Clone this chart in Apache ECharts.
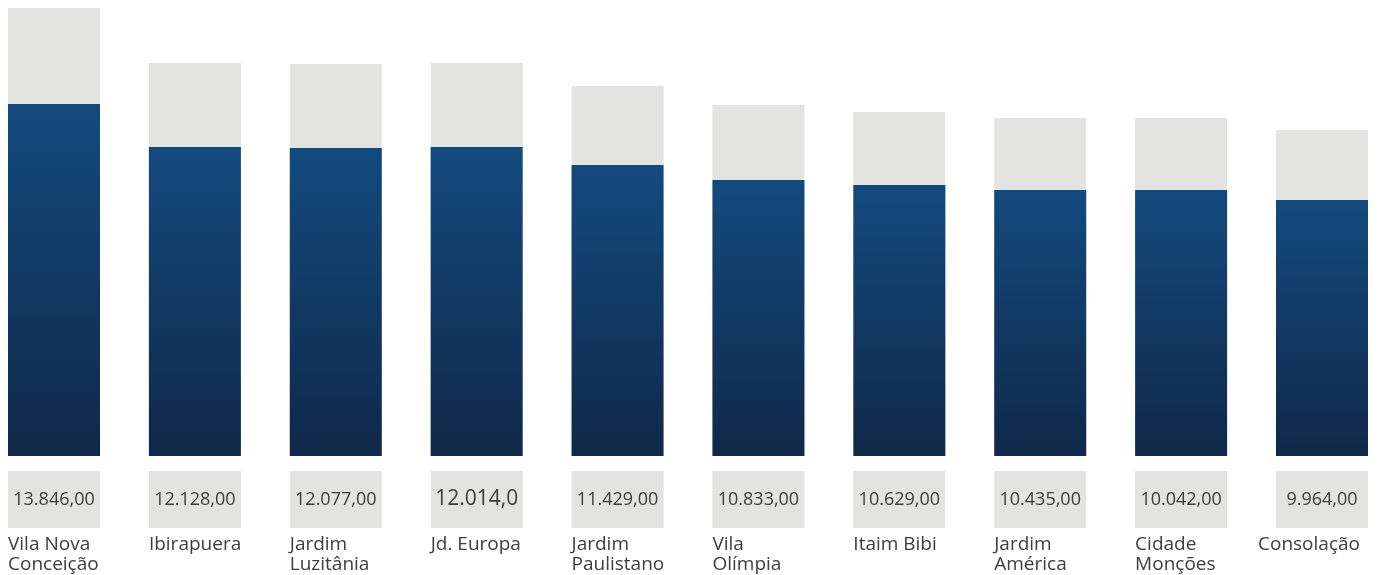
<!DOCTYPE html>
<html>
<head>
<meta charset="utf-8">
<script src="https://cdn.jsdelivr.net/npm/echarts@6/dist/echarts.min.js"></script>
<style>
html,body{margin:0;padding:0;background:#fff;}
#chart{width:1384px;height:575px;}
</style>
</head>
<body>
<div id="chart"></div>
<script>
const categories = ['Vila Nova\nConceição','Ibirapuera','Jardim\nLuzitânia','Jd. Europa','Jardim\nPaulistano','Vila\nOlímpia','Itaim Bibi','Jardim\nAmérica','Cidade\nMonções','Consolação'];
const valueLabels = ['13.846,00','12.128,00','12.077,00','12.014,0','11.429,00','10.833,00','10.629,00','10.435,00','10.042,00','9.964,00'];
const blueValues = [13846, 12155, 12115, 12155, 11447, 10856, 10660, 10463, 10463, 10070];
const greyValues = [17622, 15459, 15419, 15459, 14554, 13807, 13531, 13295, 13295, 12823];
const bigLabelIndex = 3;

const chart = echarts.init(document.getElementById('chart'));
const font = 'Open Sans';
chart.setOption({
  animation: false,
  backgroundColor: '#ffffff',
  grid: { left: 54, right: 62, top: 8, bottom: 119, containLabel: false, outerBoundsMode: 'none' },
  xAxis: {
    type: 'category',
    boundaryGap: false,
    data: categories,
    axisLine: { show: false },
    axisTick: { show: false },
    axisLabel: {
      interval: 0,
      margin: 15,
      hideOverlap: false,
      formatter: function (v, i) {
        const box = i === bigLabelIndex ? 'boxBig' : 'box';
        const nm = i === categories.length - 1 ? 'nameLast' : 'name';
        const lines = v.split('\n').map(s => '{' + nm + '|' + s + '}').join('\n');
        return '{' + box + '|' + valueLabels[i] + '}\n{sp| }\n' + lines;
      },
      rich: {
        box: { width: 92, height: 57, lineHeight: 57, backgroundColor: '#e3e3e2', align: 'center', fontSize: 18, color: '#3d3d3d', fontFamily: font },
        boxBig: { width: 92, height: 57, lineHeight: 57, backgroundColor: '#e3e3e2', align: 'center', fontSize: 21, color: '#3d3d3d', fontFamily: font },
        sp: { width: 92, height: 7, lineHeight: 7, fontSize: 4, align: 'center' },
        name: { width: 92, align: 'left', fontSize: 19, lineHeight: 20, color: '#3d3d3d', fontFamily: font },
        nameLast: { width: 128, align: 'left', fontSize: 19, lineHeight: 20, color: '#3d3d3d', fontFamily: font }
      }
    }
  },
  yAxis: {
    type: 'value', min: 0, max: 17622,
    show: false, splitLine: { show: false }
  },
  series: [
    {
      type: 'bar', data: greyValues, barWidth: 92, barGap: '-100%',
      itemStyle: { color: '#e3e3e2' }, silent: true
    },
    {
      type: 'bar', data: blueValues, barWidth: 92,
      itemStyle: {
        color: new echarts.graphic.LinearGradient(0, 0, 0, 1, [
          { offset: 0, color: '#134a7e' },
          { offset: 1, color: '#0f2849' }
        ])
      }
    }
  ]
});
</script>
</body>
</html>
